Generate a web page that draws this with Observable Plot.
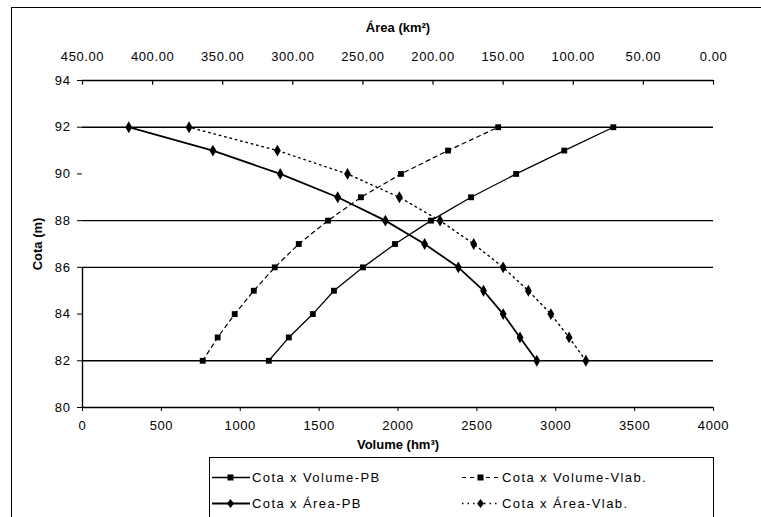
<!DOCTYPE html>
<html><head><meta charset="utf-8">
<script src="https://cdn.jsdelivr.net/npm/d3@7"></script>
<script src="https://cdn.jsdelivr.net/npm/@observablehq/plot@0.6"></script>
<style>
body{margin:0;background:#fff;font-family:"Liberation Sans",Arial,sans-serif;}
#wrap{position:relative;width:761px;height:517px;overflow:hidden;background:#fff;}
#frame{position:absolute;left:11px;top:7px;width:800px;height:600px;border-left:1.5px solid #000;border-top:1.5px solid #000;}
#chart{position:absolute;left:0;top:0;}
#legend{position:absolute;left:209px;top:457px;width:503px;height:80px;border:1.5px solid #000;background:#fff;}
.item{position:absolute;display:flex;align-items:center;font-size:13px;letter-spacing:1.4px;color:#000;white-space:nowrap;}
.item svg{margin-right:2px;}
</style></head>
<body><div id="wrap"><div id="frame"></div><div id="chart"></div><div id="legend"></div></div>
<script>
// Data
const cota = [82, 83, 84, 85, 86, 87, 88, 89, 90, 91, 92];
const volumePB   = [1181, 1308, 1460, 1594, 1778, 1981, 2209, 2463, 2749, 3054, 3365];
const volumeVlab = [762, 857, 965, 1086, 1219, 1371, 1556, 1765, 2019, 2317, 2635];
const areaPB     = [126, 138, 150, 164, 182, 206, 234, 268, 309, 357, 417];
const areaVlab   = [91, 103, 116, 132, 150, 171, 195, 224, 261, 311, 374];
const volTicks = [0, 500, 1000, 1500, 2000, 2500, 3000, 3500, 4000];
const areaTicks = [450, 400, 350, 300, 250, 200, 150, 100, 50, 0];
const cotaTicks = [80, 82, 84, 86, 88, 90, 92, 94];
const gridCota = [92, 88, 86, 82];
const seriesNames = ["Cota x Volume-PB", "Cota x Volume-Vlab.", "Cota x Área-PB", "Cota x Área-Vlab."];

const AREA_MAX = 450, VOL_MAX = 4000;
const areaToX = a => (AREA_MAX - a) / AREA_MAX * VOL_MAX;
const xToArea = v => AREA_MAX - v * AREA_MAX / VOL_MAX;

const rows = (vals, isArea) => cota.map((c, i) => ({c, x: isArea ? areaToX(vals[i]) : vals[i]}));
const sVolPB = rows(volumePB, false), sVolV = rows(volumeVlab, false);
const sAreaPB = rows(areaPB, true), sAreaV = rows(areaVlab, true);
const areaTickPos = areaTicks.map(areaToX);

const fs = 13;
const chart = Plot.plot({
  width: 761, height: 455,
  marginLeft: 82, marginRight: 48, marginTop: 80, marginBottom: 48,
  style: {fontFamily: '"Liberation Sans", Arial, sans-serif', fontSize: fs + "px", color: "#000", background: "transparent"},
  x: {domain: [0, VOL_MAX]},
  y: {domain: [80, 94]},
  marks: [
    Plot.ruleY(gridCota, {stroke: "#000", strokeWidth: 1.4}),
    Plot.ruleY([94, 80], {stroke: "#000", strokeWidth: 1.4}),
    Plot.ruleX([0], {y1: 80, y2: 86, stroke: "#000", strokeWidth: 1.4}),
    Plot.ruleX(areaTickPos, {y1: 94, y2: 93.8, stroke: "#000", strokeWidth: 1.2}),
    Plot.axisY({ticks: cotaTicks, tickSize: 5, tickPadding: 7, tickFormat: d3.format("d"), label: "Cota (m)", labelAnchor: "center", labelOffset: 50, labelArrow: "none"}),
    Plot.axisX({anchor: "bottom", ticks: volTicks, tickSize: 4, tickPadding: 9, tickFormat: d3.format("d"), label: "Volume (hm³)", labelAnchor: "center", labelOffset: 41, labelArrow: "none"}),
    Plot.axisX(areaTickPos, {anchor: "top", tickSize: 0, tickPadding: 20, tickFormat: v => xToArea(v).toFixed(2), label: "Área (km²)", labelAnchor: "center", labelOffset: 58, labelArrow: "none"}),
    Plot.line(sVolPB, {x: "x", y: "c", stroke: "#000", strokeWidth: 1.3}),
    Plot.line(sVolV, {x: "x", y: "c", stroke: "#000", strokeWidth: 1.2, strokeDasharray: "4,4"}),
    Plot.line(sAreaPB, {x: "x", y: "c", stroke: "#000", strokeWidth: 1.8}),
    Plot.line(sAreaV, {x: "x", y: "c", stroke: "#000", strokeWidth: 1.4, strokeDasharray: "1.5,4"}),
    Plot.dot(sVolPB, {x: "x", y: "c", symbol: "square", r: 3.3, fill: "#000"}),
    Plot.dot(sVolV, {x: "x", y: "c", symbol: "square", r: 3.3, fill: "#000"}),
    Plot.dot(sAreaPB, {x: "x", y: "c", symbol: "diamond", r: 3.6, fill: "#000"}),
    Plot.dot(sAreaV, {x: "x", y: "c", symbol: "diamond", r: 3.6, fill: "#000"})
  ]
});
document.getElementById("chart").appendChild(chart);
chart.querySelectorAll("g[aria-label*='tick label'] text").forEach(t => t.setAttribute("letter-spacing", "0.6"));
chart.querySelectorAll("g[aria-label$='-axis label'] text, g[aria-label$='axis label'] text").forEach(t => t.setAttribute("font-weight", "bold"));

// Legend
const swatches = [
  {dash: null, sym: "square", w: 1.3},
  {dash: "4,4", sym: "square", w: 1.2},
  {dash: null, sym: "diamond", w: 1.8},
  {dash: "1.5,4", sym: "diamond", w: 1.4}
];
const pos = [[2, 19], [252, 19], [2, 45], [252, 45]];
const leg = document.getElementById("legend");
seriesNames.forEach((name, i) => {
  const s = swatches[i];
  const div = document.createElement("div");
  div.className = "item";
  div.style.left = pos[i][0] + "px";
  div.style.top = (pos[i][1] - 9) + "px";
  const mark = s.sym === "square"
    ? '<rect x="15.5" y="6.5" width="6" height="6" fill="#000"/>'
    : '<path d="M18.5,5 L22,9.5 L18.5,14 L15,9.5Z" fill="#000"/>';
  div.innerHTML = `<svg width="38" height="19"><line x1="0" x2="38" y1="9.5" y2="9.5" stroke="#000" stroke-width="${s.w}" ${s.dash ? `stroke-dasharray="${s.dash}"` : ""}/>${mark}</svg><span>${name}</span>`;
  leg.appendChild(div);
});
</script></body></html>
